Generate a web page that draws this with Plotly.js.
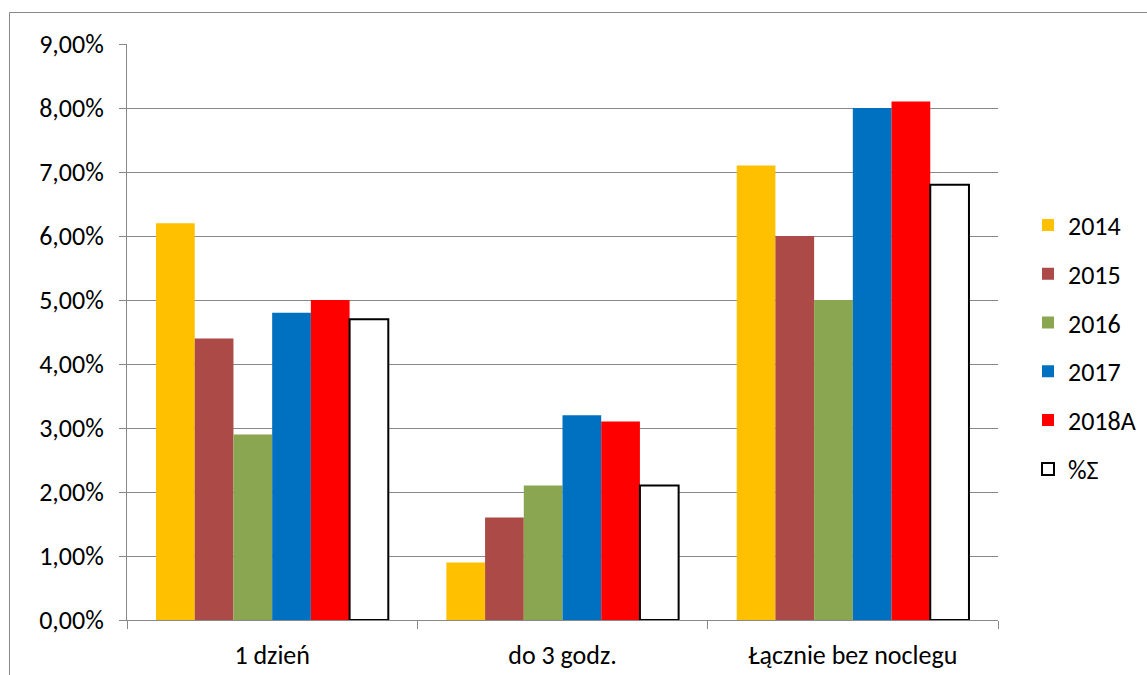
<!DOCTYPE html>
<html>
<head>
<meta charset="utf-8">
<script src="https://cdn.plot.ly/plotly-3.0.1.min.js"></script>
<style>html,body{margin:0;padding:0;background:#fff;}#chart{width:1147px;height:675px;}</style>
</head>
<body>
<div id="chart"></div>
<script>
const categories = ["1 dzień", "do 3 godz.", "Łącznie bez noclegu"];
const seriesNames = ["2014", "2015", "2016", "2017", "2018A", "%Σ"];
const v2014 = [0.062, 0.009, 0.071];
const v2015 = [0.044, 0.016, 0.060];
const v2016 = [0.029, 0.021, 0.050];
const v2017 = [0.048, 0.032, 0.080];
const v2018A = [0.050, 0.031, 0.081];
const vSum = [0.047, 0.021, 0.068];
const yTicks = [0, 0.01, 0.02, 0.03, 0.04, 0.05, 0.06, 0.07, 0.08, 0.09];

const seriesValues = [v2014, v2015, v2016, v2017, v2018A, vSum];
const fills = ["#FFC000", "#AB4A47", "#8BA650", "#0070C0", "#FF0000", "#FFFFFF"];
const lines = [null, null, null, null, null, "#000000"];

const font = "Carlito, Lato, 'Open Sans', sans-serif";

const traces = seriesNames.map((name, i) => ({
  type: "bar",
  name: name,
  x: categories,
  y: seriesValues[i],
  legendgroup: "g" + i,
  marker: {
    color: fills[i],
    line: lines[i] ? {color: lines[i], width: 2} : {width: 0}
  },
  hoverinfo: "none"
}));

const W = 1147, H = 675, ml = 127, mr = 149, mt = 44, mb = 55;
const pw = W - ml - mr, ph = H - mt - mb;
const px = x => (x - ml) / pw;
const py = y => (H - mb - y) / ph;

const layout = {
  width: W, height: H,
  margin: {l: ml, r: mr, t: mt, b: mb, pad: 0, autoexpand: false},
  paper_bgcolor: "#fff",
  plot_bgcolor: "#fff",
  separators: ",.",
  font: {family: font, size: 26, color: "#000"},
  barmode: "group",
  bargap: 0.2,
  bargroupgap: 0,
  showlegend: true,
  legend: {
    x: px(1028), xanchor: "left",
    y: py(347), yanchor: "middle",
    tracegroupgap: 12,
    font: {family: font, size: 26, color: "#000"},
    bgcolor: "rgba(0,0,0,0)"
  },
  xaxis: {
    type: "category",
    automargin: false,
    showline: true, linecolor: "#888", linewidth: 1,
    ticks: "outside", ticklen: 8, tickcolor: "#888",
    tickson: "boundaries",
    ticklabelstandoff: 12,
    showgrid: false,
    tickfont: {family: font, size: 26, color: "#000"}
  },
  yaxis: {
    range: [0, 0.09],
    automargin: false,
    tickvals: yTicks,
    tickformat: ".2%",
    showline: true, linecolor: "#888", linewidth: 1,
    ticks: "outside", ticklen: 7, tickcolor: "#888",
    ticklabelstandoff: 10,
    showgrid: true, gridcolor: "#888", gridwidth: 1,
    zeroline: false,
    tickfont: {family: font, size: 26, color: "#000"}
  },
  shapes: [
    {type: "line", xref: "paper", yref: "paper", x0: px(9.5), x1: px(1150), y0: py(12.5), y1: py(12.5), line: {color: "#888", width: 1}},
    {type: "line", xref: "paper", yref: "paper", x0: px(9.5), x1: px(9.5), y0: py(12.5), y1: py(680), line: {color: "#888", width: 1}}
  ]
};

Plotly.newPlot("chart", traces, layout, {displayModeBar: false, staticPlot: true});
</script>
</body>
</html>
